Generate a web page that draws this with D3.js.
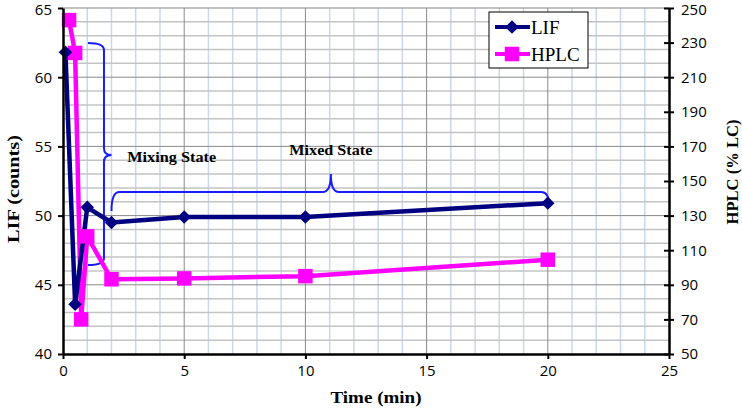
<!DOCTYPE html>
<html>
<head>
<meta charset="utf-8">
<script src="https://cdn.jsdelivr.net/npm/d3@7"></script>
<style>
  html, body { margin: 0; padding: 0; background: #fff; }
  svg { display: block; }
</style>
</head>
<body>
<svg id="chart" width="742" height="408"></svg>
<script>
// ---- data ----
const lifTime   = [0.1, 0.5, 1, 2, 5, 10, 20];
const lifValues = [61.8, 43.6, 50.6, 49.5, 49.9, 49.9, 50.9];
const hplcTime   = [0.25, 0.5, 0.75, 1, 2, 5, 10, 20];
const hplcValues = [243, 224, 70, 118, 93.2, 93.7, 95, 104.5];
const xTicks = [0, 5, 10, 15, 20, 25];
const leftTicks = [40, 45, 50, 55, 60, 65];
const rightTicks = [50, 70, 90, 110, 130, 150, 170, 190, 210, 230, 250];
const seriesNames = ["LIF", "HPLC"];
const annotationLabels = ["Mixing State", "Mixed State"];

// ---- layout ----
const svg = d3.select("#chart");
const x = d3.scaleLinear().domain([0, 25]).range([63, 669]);
const yL = d3.scaleLinear().domain([40, 65]).range([354, 8]);
const yR = d3.scaleLinear().domain([50, 250]).range([354, 8]);

const tickFont = "'Open Sans', 'Liberation Sans', sans-serif";
const serif = "'Liberation Serif', 'Times New Roman', serif";

// ---- grid ----
const g = svg.append("g");
g.selectAll("line.vmin").data(d3.range(1, 25).filter(d => d % 5 !== 0)).join("line")
  .attr("x1", d => x(d)).attr("x2", d => x(d)).attr("y1", yL(65)).attr("y2", yL(40))
  .attr("stroke", "#c9d8f0").attr("stroke-width", 1.5);
g.selectAll("line.hmin").data(d3.range(41, 65).filter(d => d % 5 !== 0)).join("line")
  .attr("x1", x(0)).attr("x2", x(25)).attr("y1", d => yL(d)).attr("y2", d => yL(d))
  .attr("stroke", "#c4c4c4").attr("stroke-width", 1.5);
g.selectAll("line.vmaj").data([5, 10, 15, 20]).join("line")
  .attr("x1", d => x(d)).attr("x2", d => x(d)).attr("y1", yL(65)).attr("y2", yL(40))
  .attr("stroke", "#8a8a8a").attr("stroke-width", 1);
g.selectAll("line.hmaj").data([45, 50, 55, 60, 65]).join("line")
  .attr("x1", x(0)).attr("x2", x(25)).attr("y1", d => yL(d)).attr("y2", d => yL(d))
  .attr("stroke", "#8a8a8a").attr("stroke-width", 1);

// ---- annotations (braces) in data units ----
const braceColor = "#1a1aff";
// Mixing State: vertical brace (time units for x, LIF units for y)
const mixEnd = 1.03, mixLine = 1.69, mixTip = 2.0, mixTop = 62.47, mixMid = 54.38, mixBot = 46.43;
{
  const x0 = x(mixEnd), xl = x(mixLine), xt = x(mixTip);
  const yt = yL(mixTop), ym = yL(mixMid), yb = yL(mixBot), r = 7;
  const p = `M${x0},${yt} Q${xl},${yt} ${xl},${yt + r} L${xl},${ym - r} Q${xl},${ym} ${xt},${ym}
             Q${xl},${ym} ${xl},${ym + r} L${xl},${yb - r} Q${xl},${yb} ${x0},${yb}`;
  svg.append("path").attr("d", p).attr("fill", "none").attr("stroke", braceColor).attr("stroke-width", 2);
}
// Mixed State: horizontal brace
const mxL = 2.0, mxR = 20.05, mxMid = 11.05, mxLine = 51.7, mxEndL = 50.33, mxEndR = 50.77, mxTip = 53.0;
{
  const xa = x(mxL), xb = x(mxR), xm = x(mxMid);
  const yl = yL(mxLine), ya = yL(mxEndL), yb = yL(mxEndR), yt = yL(mxTip), r = 8;
  const p = `M${xa},${ya} Q${xa},${yl} ${xa + r},${yl} L${xm - r},${yl} Q${xm},${yl} ${xm},${yt}
             Q${xm},${yl} ${xm + r},${yl} L${xb - r},${yl} Q${xb},${yl} ${xb},${yb}`;
  svg.append("path").attr("d", p).attr("fill", "none").attr("stroke", braceColor).attr("stroke-width", 2);
}
svg.append("text").attr("x", x(2.65)).attr("y", yL(53.9))
  .attr("font-family", serif).attr("font-weight", "bold").attr("font-size", 15)
  .attr("textLength", 89).attr("lengthAdjust", "spacingAndGlyphs")
  .text(annotationLabels[0]);
svg.append("text").attr("x", x(mxMid)).attr("y", yL(54.4)).attr("text-anchor", "middle")
  .attr("font-family", serif).attr("font-weight", "bold").attr("font-size", 15)
  .attr("textLength", 83).attr("lengthAdjust", "spacingAndGlyphs")
  .text(annotationLabels[1]);

// ---- series ----
const lifData = lifTime.map((t, i) => ({ t, v: lifValues[i] }));
const hplcData = hplcTime.map((t, i) => ({ t, v: hplcValues[i] }));
const lifColor = "#000080", hplcColor = "#ff00ff";

svg.append("path").datum(hplcData)
  .attr("d", d3.line().x(d => x(d.t)).y(d => yR(d.v)))
  .attr("fill", "none").attr("stroke", hplcColor).attr("stroke-width", 4.5).attr("stroke-linejoin", "round");
svg.append("path").datum(lifData)
  .attr("d", d3.line().x(d => x(d.t)).y(d => yL(d.v)))
  .attr("fill", "none").attr("stroke", lifColor).attr("stroke-width", 4.5).attr("stroke-linejoin", "round");

const diamond = d3.symbol().type(d3.symbolDiamond2).size(115);
const square = d3.symbol().type(d3.symbolSquare).size(210);
svg.selectAll("path.sq").data(hplcData).join("path")
  .attr("transform", d => `translate(${x(d.t)},${yR(d.v)})`)
  .attr("d", square).attr("fill", hplcColor);
svg.selectAll("path.dm").data(lifData).join("path")
  .attr("transform", d => `translate(${x(d.t)},${yL(d.v)})`)
  .attr("d", diamond).attr("fill", lifColor);

// ---- axes ----
const axisBottom = d3.axisBottom(x).tickValues(xTicks).tickSize(5).tickFormat(d3.format("d"));
const axisLeft = d3.axisLeft(yL).tickValues(leftTicks).tickSize(5).tickFormat(d3.format("d"));
const axisRight = d3.axisRight(yR).tickValues(rightTicks).tickSize(5).tickFormat(d3.format("d"));

function styleAxis(sel) {
  sel.select(".domain").attr("stroke", "#000").attr("stroke-width", 2.5);
  sel.selectAll(".tick line").attr("stroke", "#000").attr("stroke-width", 2);
  sel.selectAll(".tick text").attr("font-family", tickFont).attr("font-size", 15).attr("fill", "#000");
}
const gx = svg.append("g").attr("transform", `translate(0,${yL(40)})`).call(axisBottom.tickSizeOuter(0));
styleAxis(gx);
gx.selectAll(".tick text").attr("dy", "0.95em");
const gl = svg.append("g").attr("transform", `translate(${x(0)},0)`).call(axisLeft.tickSizeOuter(0));
styleAxis(gl);
gl.selectAll(".tick text").attr("x", -11);
const gr = svg.append("g").attr("transform", `translate(${x(25)},0)`).call(axisRight.tickSizeOuter(0));
styleAxis(gr);
gr.selectAll(".tick line").attr("x1", -5);
gr.selectAll(".tick text").attr("x", 12);
// keep the top-most labels inside the picture
gl.selectAll(".tick text").filter(d => d === 65).attr("dy", "0.42em");
gr.selectAll(".tick text").filter(d => d === 250).attr("dy", "0.42em");

// ---- titles ----
svg.append("text").attr("transform", `translate(19,189) rotate(-90)`).attr("text-anchor", "middle")
  .attr("font-family", serif).attr("font-weight", "bold").attr("font-size", 17)
  .attr("textLength", 108).attr("lengthAdjust", "spacingAndGlyphs").text("LIF (counts)");
svg.append("text").attr("transform", `translate(738,172) rotate(-90)`).attr("text-anchor", "middle")
  .attr("font-family", serif).attr("font-weight", "bold").attr("font-size", 17)
  .attr("textLength", 105).attr("lengthAdjust", "spacingAndGlyphs").text("HPLC (% LC)");
svg.append("text").attr("x", 376).attr("y", 403).attr("text-anchor", "middle")
  .attr("font-family", serif).attr("font-weight", "bold").attr("font-size", 17)
  .attr("textLength", 91).attr("lengthAdjust", "spacingAndGlyphs").text("Time (min)");

// ---- legend ----
const lg = svg.append("g");
lg.append("rect").attr("x", 489).attr("y", 12).attr("width", 99).attr("height", 56)
  .attr("fill", "#fff").attr("stroke", "#000").attr("stroke-width", 1);
const legendItems = [
  { name: seriesNames[0], color: lifColor, sym: diamond, y: 27 },
  { name: seriesNames[1], color: hplcColor, sym: square, y: 54 }
];
legendItems.forEach(it => {
  lg.append("line").attr("x1", 495).attr("x2", 530).attr("y1", it.y).attr("y2", it.y)
    .attr("stroke", it.color).attr("stroke-width", 4);
  lg.append("path").attr("transform", `translate(512,${it.y})`).attr("d", it.sym).attr("fill", it.color);
  lg.append("text").attr("x", 531).attr("y", it.y + 7).attr("font-family", serif)
    .attr("font-size", 19).text(it.name);
});
</script>
</body>
</html>
